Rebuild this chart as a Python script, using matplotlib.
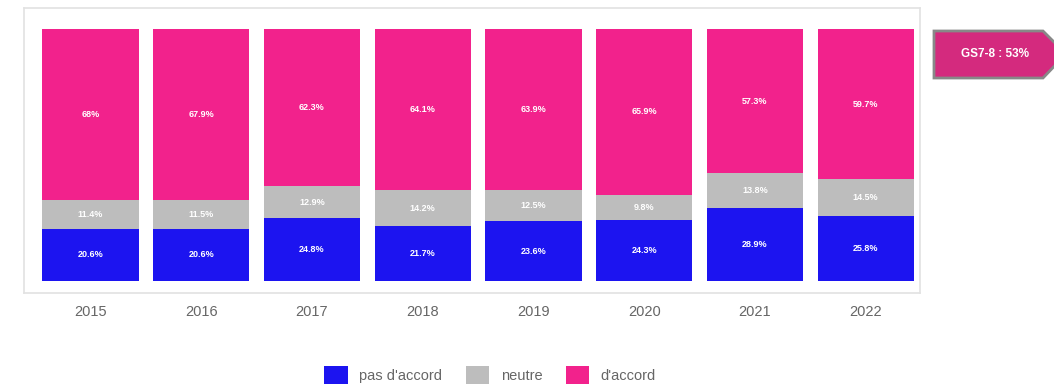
import matplotlib.pyplot as plt
from matplotlib.patches import Polygon

plt.rcParams["font.family"] = ["Liberation Sans", "DejaVu Sans"]

years = ["2015", "2016", "2017", "2018", "2019", "2020", "2021", "2022"]
pas_accord = [20.6, 20.6, 24.8, 21.7, 23.6, 24.3, 28.9, 25.8]
neutre = [11.4, 11.5, 12.9, 14.2, 12.5, 9.8, 13.8, 14.5]
accord = [68.0, 67.9, 62.3, 64.1, 63.9, 65.9, 57.3, 59.7]
series_names = ["pas d'accord", "neutre", "d'accord"]
badge_text = "GS7-8 : 53%"

colors = ["#1c14f0", "#bdbdbd", "#f2228c"]


def fmt(v):
    return f"{v:g}%"


fig = plt.figure(figsize=(10.54, 3.86), dpi=100)
ax = fig.add_axes([24 / 1054, 1 - 293 / 386, (920 - 24) / 1054, (293 - 8) / 386])

x = list(range(len(years)))
bottom = [0.0] * len(years)
bars = []
for vals, name, col in zip([pas_accord, neutre, accord], series_names, colors):
    b = ax.bar(x, vals, width=0.87, bottom=bottom, color=col, label=name,
               linewidth=0)
    bars.append(b)
    for xi, v, b0 in zip(x, vals, bottom):
        ax.text(xi, b0 + v / 2, fmt(v), ha="center", va="center",
                color="white", fontsize=6.5, fontweight="bold")
    bottom = [b0 + v for b0, v in zip(bottom, vals)]

ax.set_xlim(-0.6, 7.49)
ax.set_ylim(-4.8, 108.3)
ax.set_xticks(x)
ax.set_xticklabels(years, color="#666666", fontsize=10.5)
ax.tick_params(axis="x", length=0, pad=9)
ax.set_yticks([])
for s in ax.spines.values():
    s.set_color("#e2e2e2")
    s.set_linewidth(1.2)

fig.legend(bars, series_names, loc="center", ncol=3, frameon=False,
           bbox_to_anchor=(490 / 1054, 1 - 375 / 386), fontsize=10.5,
           handlelength=1.6, handleheight=1.6, columnspacing=1.6,
           handletextpad=0.8, labelcolor="#666666")

# badge on the right
W, H = 1054, 386
pts = [(934, 31), (1043, 31), (1066, 54), (1043, 78), (934, 78)]
poly = Polygon([(px / W, 1 - py / H) for px, py in pts], closed=True,
               transform=fig.transFigure, facecolor="#d42a7e",
               edgecolor="#888888", linewidth=2)
fig.patches.append(poly)
fig.text(995 / W, 1 - 54 / H, badge_text, ha="center", va="center",
         color="white", fontsize=8.5, fontweight="bold")

fig.savefig("out.png", dpi=100)
